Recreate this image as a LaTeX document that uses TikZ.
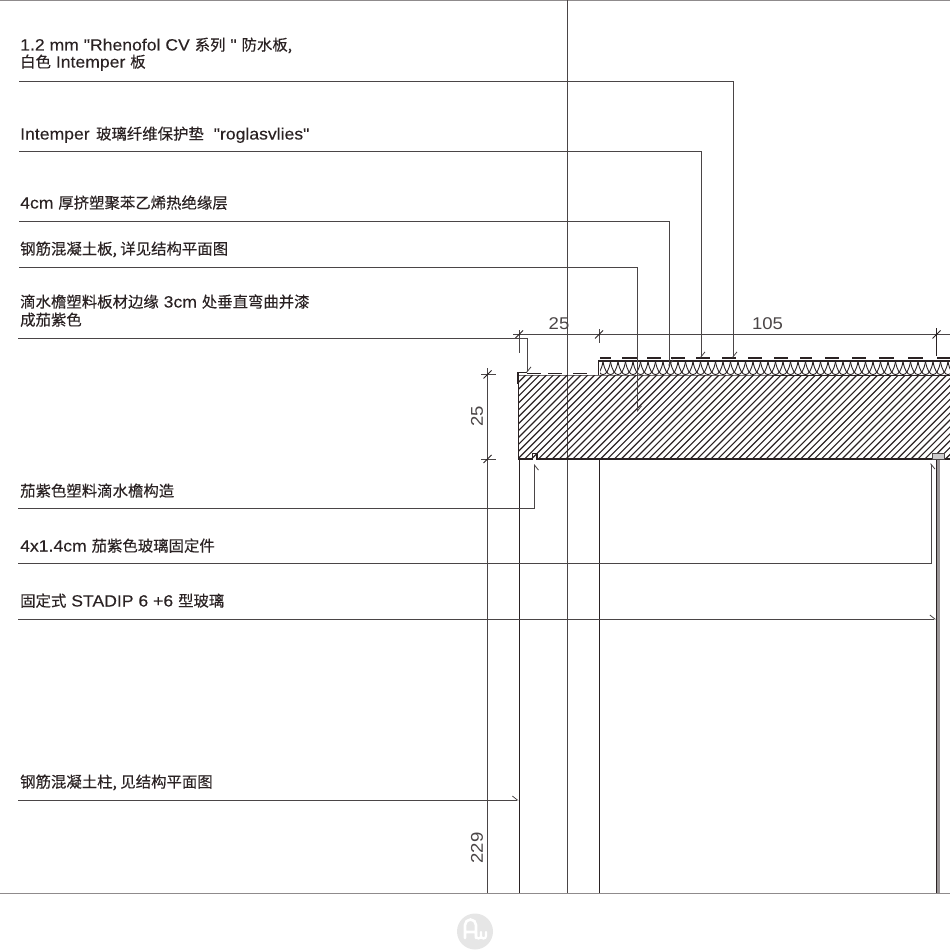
\documentclass[tikz,border=0pt]{standalone}
\usepackage{fontspec}
\setmainfont{Liberation Sans}
\newfontfamily\latinfont[FakeStretch=1.08,FakeBold=0.15]{Liberation Sans}
\newfontfamily\dimfont[FakeStretch=1.09]{Liberation Sans}
\newfontfamily\cjk[FakeBold=0.25]{Noto Sans CJK SC}
\newcommand{\zh}[1]{{\cjk\fontsize{15.4}{17}\selectfont #1}}
\usetikzlibrary{arrows.meta}
\definecolor{ink}{HTML}{2A2223}
\definecolor{leader}{HTML}{4A4546}
\definecolor{framegray}{HTML}{8F8B8C}
\definecolor{glassgray}{HTML}{9A9596}
\definecolor{logogray}{HTML}{E6E6E6}
\tikzset{
  x=1pt,y=-1pt,
  lab/.style={anchor=base west,inner sep=0pt,font=\latinfont\fontsize{16.3}{18}\selectfont,text=ink,align=left},
  dimlab/.style={inner sep=0pt,font=\dimfont\fontsize{17}{19}\selectfont,text=leader},
  leaderline/.style={draw=leader,line width=.8pt},
  pointerL/.style={leaderline,-{Straight Barb[left,length=5pt,width=8pt]}},
  pointerR/.style={leaderline,-{Straight Barb[right,length=5pt,width=8pt]}},
  frameline/.style={draw=framegray,line width=1pt},
  dimline/.style={draw=leader,line width=.9pt},
  struct/.style={draw=ink,line width=1.2pt},
  hatchline/.style={draw=ink,line width=1.15pt},
  wave/.style={draw=ink,line width=.9pt},
}
\begin{document}
\begin{tikzpicture}
\useasboundingbox (0,0) rectangle (950,950);
% frame lines
\coordinate (ftl) at (0,.5); \coordinate (ftr) at (950,.5);
\coordinate (fbl) at (0,893); \coordinate (fbr) at (950,893);
\draw[frameline] (ftl) -- (ftr);
\draw[frameline] (fbl) -- (fbr);
\coordinate (axt) at (567.5,0); \coordinate (axb) at (567.5,893);
\draw[draw=leader,line width=.8pt] (axt) -- (axb);
% slab hatch
\begin{scope}
\clip (519,375) rectangle (950,459);
\foreach \i in {0,...,80}{
  \draw[hatchline] ({425+6.9*\i},462) -- ({425+6.9*\i+90},372);
}
\end{scope}
% insulation
\begin{scope}
\clip (600,361) rectangle (950,375);
\foreach \i in {0,...,50}{
  \pgfmathsetmacro{\xa}{588+7.5*\i}
  \draw[wave] (\xa,361.5) .. controls (\xa+3,379) and (\xa+12,379) .. (\xa+15,361.5);
}
\end{scope}
% slab outline
\coordinate (s1) at (518.5,375); \coordinate (s2) at (518.5,459);
\coordinate (s3) at (532.5,459); \coordinate (s4) at (532.5,453.5);
\coordinate (s5) at (537,453.5); \coordinate (s6) at (537,459);
\coordinate (s7) at (950,459);
\draw[struct] (s1) -- (s2) -- (s3) -- (s4) -- (s5) -- (s6) -- (s7);
\coordinate (s8) at (598.5,375); \coordinate (s9) at (950,375);
\draw[draw=ink,line width=1pt] (s1) -- (s8) -- (s9);
% step and membrane
\coordinate (m1) at (598.5,361); \coordinate (m2) at (950,361);
\draw[struct] (s8) -- (m1) -- (m2);
\foreach \xd/\len in {600/11,622/15,647/14,671/14,696/14,722/14,748/14,774/14,800/12,825/14,852/14,879/15,908/15,937/13}{
  \draw[draw=ink,line width=2.6pt] (\xd,358) -- ++(\len,0);
}
\foreach \xd in {527,548,573}{
  \draw[draw=ink,line width=1.6pt] (\xd,373.5) -- ++(14,0);
}
% drip edge
\coordinate (d1) at (527,372.5); \coordinate (d2) at (518,372.5); \coordinate (d3) at (518,384);
\draw[draw=ink,line width=1.4pt] (d1) -- (d2) -- (d3);
% columns and verticals
\coordinate (c1t) at (519,459); \coordinate (c1b) at (519,893);
\coordinate (c2t) at (599.5,459); \coordinate (c2b) at (599.5,893);
\draw[dimline,draw=ink] (c1t) -- (c1b);
\draw[dimline,draw=ink] (c2t) -- (c2b);
% glass
\fill[glassgray] (937,453) rectangle (940,893);
\coordinate (g1) at (936.5,453); \coordinate (g2) at (936.5,893);
\draw[draw=ink,line width=1.1pt] (g1) -- (g2);
\draw[draw=leader,line width=.8pt,fill=glassgray!50] (932.5,453.5) rectangle (944,459);
% dimensions
\coordinate (dh1) at (513,334.5); \coordinate (dh2) at (950,334.5);
\draw[dimline] (dh1) -- (dh2);
\coordinate (e1t) at (519,330); \coordinate (e1b) at (519,353);
\draw[dimline] (e1t) -- (e1b);
\coordinate (e2t) at (599,329); \coordinate (e2b) at (599,343);
\draw[dimline] (e2t) -- (e2b);
\coordinate (e3t) at (936.5,328); \coordinate (e3b) at (936.5,356);
\draw[dimline,draw=ink] (e3t) -- (e3b);
\foreach \n/\xt in {a/519,b/599,c/936.5}{
  \coordinate (t\n1) at (\xt-4,338.5); \coordinate (t\n2) at (\xt+4,330.5);
  \draw[draw=ink,line width=1pt] (t\n1) -- (t\n2);
}
\coordinate (dv1) at (487.5,368); \coordinate (dv2) at (487.5,893);
\draw[dimline] (dv1) -- (dv2);
\coordinate (h1a) at (481,374.5); \coordinate (h1b) at (496,374.5);
\coordinate (h2a) at (481,459); \coordinate (h2b) at (496,459);
\draw[dimline] (h1a) -- (h1b);
\draw[dimline] (h2a) -- (h2b);
\foreach \n/\yt in {p/374.5,q/459}{
  \coordinate (v\n1) at (483.5,\yt+4); \coordinate (v\n2) at (491.5,\yt-4);
  \draw[draw=ink,line width=1pt] (v\n1) -- (v\n2);
}
\node[dimlab] (d25a) at (559,323.5) {25};
\node[dimlab] (d105) at (767.5,323.5) {105};
\node[dimlab,rotate=90] (d25b) at (477,416.5) {25};
\node[dimlab,rotate=90] (d229) at (477,848) {229};
% labels
\node[lab] (l1a) at (20,50.5) {1.2 mm "Rhenofol CV \zh{系列} " \zh{防水板,}};
\node[lab] (l1b) at (20,67.5) {\zh{白色} Intemper \zh{板}};
\node[lab] (l2) at (20,139.5) {Intemper\hspace{1.5pt} \zh{玻璃纤维保护垫}\hspace{5pt} "roglasvlies"};
\node[lab] (l3) at (20,208.5) {4cm \zh{厚挤塑聚苯乙烯热绝缘层}};
\node[lab] (l4) at (20,254.5) {\zh{钢筋混凝土板, 详见结构平面图}};
\node[lab] (l5a) at (20,307.5) {\zh{滴水檐塑料板材边缘} 3cm \zh{处垂直弯曲并漆}};
\node[lab] (l5b) at (20,325.5) {\zh{成茄紫色}};
\node[lab] (l6) at (20,496.5) {\zh{茄紫色塑料滴水檐构造}};
\node[lab] (l7) at (20,551.5) {4x1.4cm \zh{茄紫色玻璃固定件}};
\node[lab] (l8) at (20,606.5) {\zh{固定式} STADIP 6 +6 \zh{型玻璃}};
\node[lab] (l9) at (20,787.5) {\zh{钢筋混凝土柱, 见结构平面图}};
% leaders
\coordinate (a1) at (19,81);   \coordinate (p1) at (733,358);
\coordinate (a2) at (19,151.5);\coordinate (p2) at (701,358);
\coordinate (a3) at (19,221.5);\coordinate (p3) at (669,366);
\coordinate (a4) at (19,267);  \coordinate (p4) at (637.5,412);
\coordinate (a5) at (18,338);  \coordinate (p5) at (527,373);
\coordinate (a6) at (18,508.5);\coordinate (p6) at (534.5,464);
\coordinate (a7) at (18,563.5);\coordinate (p7) at (931,463);
\coordinate (a8) at (18,619);  \coordinate (p8) at (936,619);
\coordinate (a9) at (18,800);  \coordinate (p9) at (518.5,800);
\foreach \n in {1,...,5}{
  \draw[pointerL] (a\n) -| (p\n);
}
\draw[pointerR] (a6) -| (p6);
\draw[pointerR] (a7) -| (p7);
\draw[pointerL] (a8) -- (p8);
\draw[pointerL] (a9) -- (p9);
% logo
\fill[logogray] (475,931.5) circle (18);
\draw[white,line width=2.6pt,line cap=round] (465,938) -- (465,925) arc[start angle=180,end angle=360,radius=5.5] -- (476,938) (465,932) -- (476,932);
\draw[white,line width=2.2pt,line cap=round] (476,932) -- (476,936) arc[start angle=180,end angle=0,radius=2.5] -- (481,932) (481,936) arc[start angle=180,end angle=0,radius=2.5] -- (486,932);
\end{tikzpicture}
\end{document}
